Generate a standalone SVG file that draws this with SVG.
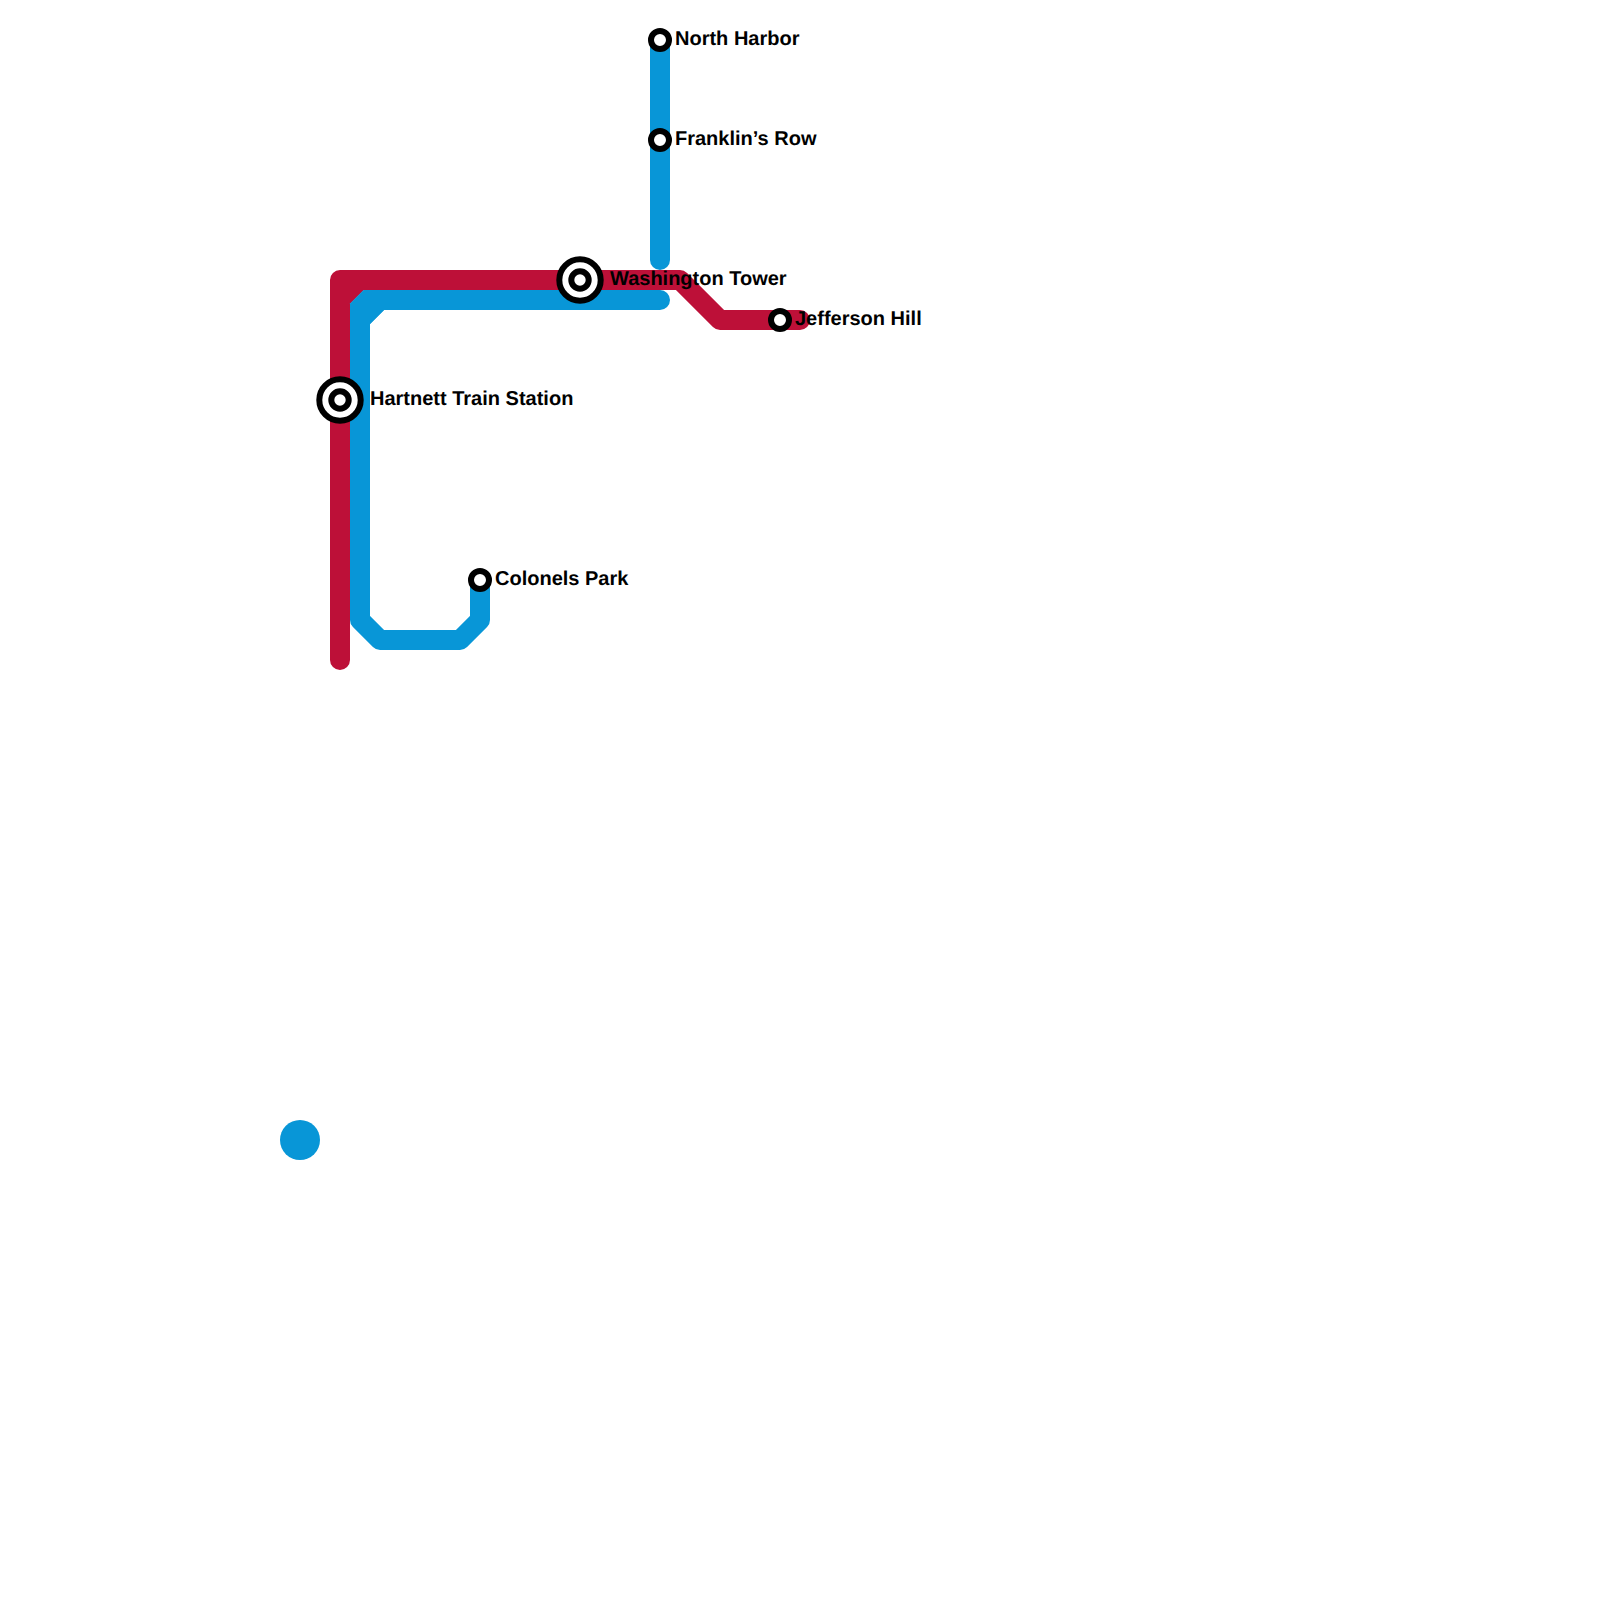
<svg xmlns="http://www.w3.org/2000/svg" width="1600" height="1600" viewBox="0 0 1600 1600">
<style>
.l{fill:none;stroke-width:20;stroke-linecap:round;stroke-linejoin:round}
.r{stroke:#bd1038}.b{stroke:#0896d7}
.ring{fill:#fff;stroke:#000;stroke-width:6}
text{font-family:"Liberation Sans",Arial,sans-serif;font-size:20px;font-weight:700;fill:#000;text-rendering:geometricPrecision}
</style>
<rect width="1600" height="1600" fill="#fff"/>
<g id="connectors">
<circle cx="300" cy="1140" r="20" fill="#0896d7"/>
<path class="l r" d="M340 660V280H680L720 320H800"/>
<path d="M350 290V304L364 290Z" fill="#bd1038"/>
<path class="l b" d="M660 40V260"/>
<path class="l b" d="M660 300H380L360 320V620L380 640H460L480 620V580"/>
<path d="M350 303.500L363.500 290H384V310L370 324H350Z" fill="#0896d7"/>
</g>
<g id="hartnett"><circle class="ring" cx="340" cy="400" r="20.700"/><circle class="ring" cx="340" cy="400" r="8.700"/><text x="370" y="404.500">Hartnett Train Station</text></g>
<g id="washington"><circle class="ring" cx="580" cy="280" r="20.700"/><circle class="ring" cx="580" cy="280" r="8.700"/><text x="610" y="284.500">Washington Tower</text></g>
<g id="north"><circle class="ring" cx="660" cy="40" r="9"/><text x="675" y="44.500">North Harbor</text></g>
<g id="franklin"><circle class="ring" cx="660" cy="140" r="9"/><text x="675" y="144.500">Franklin’s Row</text></g>
<g id="jefferson"><circle class="ring" cx="780" cy="320" r="9"/><text x="795" y="324.500">Jefferson Hill</text></g>
<g id="colonels"><circle class="ring" cx="480" cy="580" r="9"/><text x="495" y="584.500">Colonels Park</text></g>
</svg>
